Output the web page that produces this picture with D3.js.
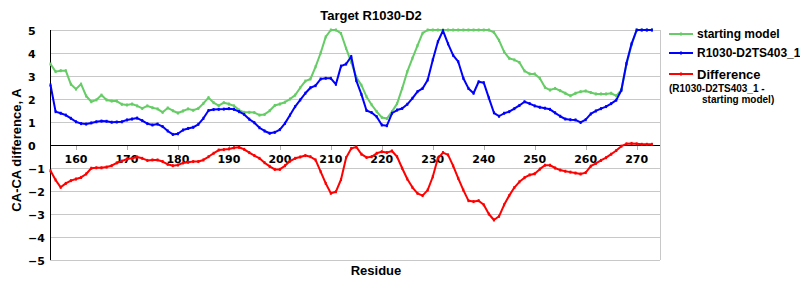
<!DOCTYPE html>
<html><head><meta charset="utf-8">
<script src="https://cdn.jsdelivr.net/npm/d3@7"></script>
<style>body{margin:0;background:#fff}svg{display:block}</style>
</head><body>
<svg id="c" width="800" height="300"></svg>
<script>
const residueStart = 155;
const starting = [3.52,3.19,3.23,3.23,2.64,2.43,2.65,2.13,1.88,1.96,2.17,1.96,1.91,1.91,1.77,1.74,1.78,1.70,1.59,1.70,1.62,1.57,1.42,1.61,1.49,1.39,1.48,1.57,1.51,1.59,1.81,2.06,1.84,1.71,1.84,1.78,1.70,1.52,1.42,1.42,1.41,1.30,1.33,1.49,1.72,1.78,1.86,2.00,2.17,2.49,2.78,2.87,3.40,4.00,4.70,5,5,4.85,4.20,3.60,2.95,2.60,2.10,1.75,1.45,1.20,1.15,1.45,1.80,2.46,3.19,3.77,4.32,4.86,5,5,5,5,5,5,5,5,5,5,5,5,5,4.90,4.55,4.05,3.77,3.70,3.59,3.22,3.09,3.09,2.90,2.51,2.39,2.46,2.36,2.25,2.14,2.25,2.32,2.35,2.28,2.22,2.22,2.22,2.25,2.14,2.40,3.50,4.35,5,5,5,5];
const model = [2.61,1.45,1.38,1.30,1.16,1.01,0.93,0.91,0.96,1.01,1.04,1.03,0.99,1.00,1.01,1.09,1.13,1.17,1.06,0.93,0.87,0.91,0.80,0.61,0.46,0.49,0.65,0.72,0.77,0.90,1.16,1.50,1.54,1.55,1.56,1.58,1.55,1.45,1.33,1.12,0.97,0.75,0.61,0.51,0.55,0.67,0.94,1.30,1.67,1.96,2.25,2.49,2.58,2.87,2.90,2.90,2.64,3.43,3.52,3.85,2.80,2.20,1.50,1.41,1.23,0.87,0.84,1.38,1.52,1.59,1.77,2.03,2.32,2.46,2.83,3.70,4.49,4.97,4.40,3.90,3.62,2.90,2.46,2.25,2.75,2.71,2.05,1.40,1.25,1.38,1.45,1.58,1.72,1.88,1.80,1.70,1.64,1.60,1.55,1.40,1.25,1.13,1.10,1.09,0.98,1.10,1.35,1.48,1.58,1.67,1.80,1.95,2.38,3.55,4.40,5,5,5,5];
const difference = [-1.12,-1.52,-1.84,-1.67,-1.55,-1.48,-1.41,-1.26,-1.01,-0.99,-0.99,-0.96,-0.90,-0.78,-0.70,-0.61,-0.58,-0.52,-0.58,-0.67,-0.65,-0.65,-0.72,-0.84,-0.90,-0.87,-0.78,-0.75,-0.72,-0.72,-0.65,-0.51,-0.36,-0.22,-0.20,-0.17,-0.12,-0.10,-0.19,-0.33,-0.46,-0.58,-0.77,-0.93,-1.06,-1.06,-0.90,-0.70,-0.58,-0.52,-0.46,-0.51,-0.65,-1.16,-1.67,-2.10,-2.03,-1.50,-0.55,-0.15,-0.08,-0.40,-0.54,-0.51,-0.36,-0.29,-0.33,-0.26,-0.51,-1.01,-1.48,-1.84,-2.10,-2.20,-1.96,-1.38,-0.58,-0.33,-0.43,-0.91,-1.45,-1.96,-2.42,-2.46,-2.42,-2.60,-3.00,-3.26,-3.10,-2.60,-2.20,-1.85,-1.60,-1.42,-1.30,-1.25,-1.05,-0.88,-0.88,-1.00,-1.09,-1.14,-1.18,-1.22,-1.26,-1.20,-0.92,-0.80,-0.67,-0.55,-0.40,-0.24,-0.05,0.05,0.07,0.05,0.03,0.03,0.03];
const xTicks = [160,170,180,190,200,210,220,230,240,250,260,270];
const yTicks = [-5,-4,-3,-2,-1,0,1,2,3,4,5];
const seriesNames = ["starting model","R1030-D2TS403_1","Difference"];
const seriesColors = ["#66cc66","#0000ff","#ff0000"];

const svg = d3.select("#c");
const x = d3.scaleLinear().domain([155, 274.6]).range([50.5, 660.1]);
const y = d3.scaleLinear().domain([-5, 5]).range([260, 30]);
const L = 50, R = 660;

// grid
svg.append("g").selectAll("line").data(yTicks.filter(d=>d!==0)).join("line")
  .attr("x1", L).attr("x2", R).attr("y1", d=>y(d)).attr("y2", d=>y(d))
  .attr("stroke", "#c8c8c8").attr("stroke-width", 1).attr("shape-rendering","crispEdges");
svg.append("line").attr("x1", R).attr("x2", R).attr("y1", 30).attr("y2", 260)
  .attr("stroke", "#c8c8c8").attr("shape-rendering","crispEdges");

// x ticks on zero line
svg.append("g").selectAll("line").data(xTicks).join("line")
  .attr("x1", d=>Math.round(x(d))+0.5).attr("x2", d=>Math.round(x(d))+0.5)
  .attr("y1", y(0)).attr("y2", y(0)+5).attr("stroke", "#b0b0b0");
svg.append("line").attr("x1", L).attr("x2", R).attr("y1", y(0)).attr("y2", y(0))
  .attr("stroke", "#000").attr("shape-rendering","crispEdges");
svg.append("line").attr("x1", L).attr("x2", L).attr("y1", 30).attr("y2", 260)
  .attr("stroke", "#000").attr("shape-rendering","crispEdges");

svg.append("g").selectAll("text").data(xTicks).join("text")
  .attr("x", d=>x(d)).attr("y", y(0)+18).attr("text-anchor","middle")
  .attr("font-family","DejaVu Sans").attr("font-weight","bold").attr("font-size",11)
  .text(d=>d);
svg.append("g").selectAll("text").data(yTicks).join("text")
  .attr("x", 28).attr("y", d=>y(d)+4.5)
  .attr("font-family","DejaVu Sans").attr("font-weight","bold").attr("font-size",11)
  .text(d=>d<0 ? "\u2212"+(-d) : d);

// series
const all = [starting, model, difference];
const line = d3.line().x((d,i)=>x(residueStart+i)).y(d=>y(d));
all.forEach((s,k)=>{
  svg.append("path").datum(s).attr("d", line).attr("fill","none")
    .attr("stroke", seriesColors[k]).attr("stroke-width", 2).attr("stroke-linejoin","round");
  svg.append("g").selectAll("rect").data(s).join("rect")
    .attr("x", (d,i)=>x(residueStart+i)-1).attr("y", d=>y(d)-1.5)
    .attr("width",2).attr("height",3).attr("fill", seriesColors[k]);
});

// titles
svg.append("text").attr("x", 371).attr("y", 20).attr("text-anchor","middle")
  .attr("font-family","Liberation Sans").attr("font-weight","bold").attr("font-size",13)
  .text("Target R1030-D2");
svg.append("text").attr("x", 376).attr("y", 275).attr("text-anchor","middle")
  .attr("font-family","Liberation Sans").attr("font-weight","bold").attr("font-size",13)
  .text("Residue");
svg.append("text").attr("transform","translate(21,150) rotate(-90)").attr("text-anchor","middle")
  .attr("font-family","Liberation Sans").attr("font-weight","bold").attr("font-size",13)
  .text("CA-CA difference, A");

// legend
const legY = [34, 53, 74];
seriesNames.forEach((n,k)=>{
  svg.append("line").attr("x1",669).attr("x2",693).attr("y1",legY[k]).attr("y2",legY[k])
    .attr("stroke", seriesColors[k]).attr("stroke-width",2);
  svg.append("rect").attr("x",680).attr("y",legY[k]-1.5).attr("width",2).attr("height",3).attr("fill",seriesColors[k]);
  svg.append("text").attr("x", 697).attr("y", legY[k]+ (k===2?4.5:4))
    .attr("font-family","Liberation Sans").attr("font-weight","bold").attr("font-size", k===2?13:12)
    .text(n);
});
svg.append("text").attr("x",669).attr("y",92).attr("font-family","Liberation Sans").attr("font-weight","bold").attr("font-size",10).text("(R1030-D2TS403_1 -");
svg.append("text").attr("x",702).attr("y",102.5).attr("font-family","Liberation Sans").attr("font-weight","bold").attr("font-size",10).text("starting model)");
</script>
</body></html>
